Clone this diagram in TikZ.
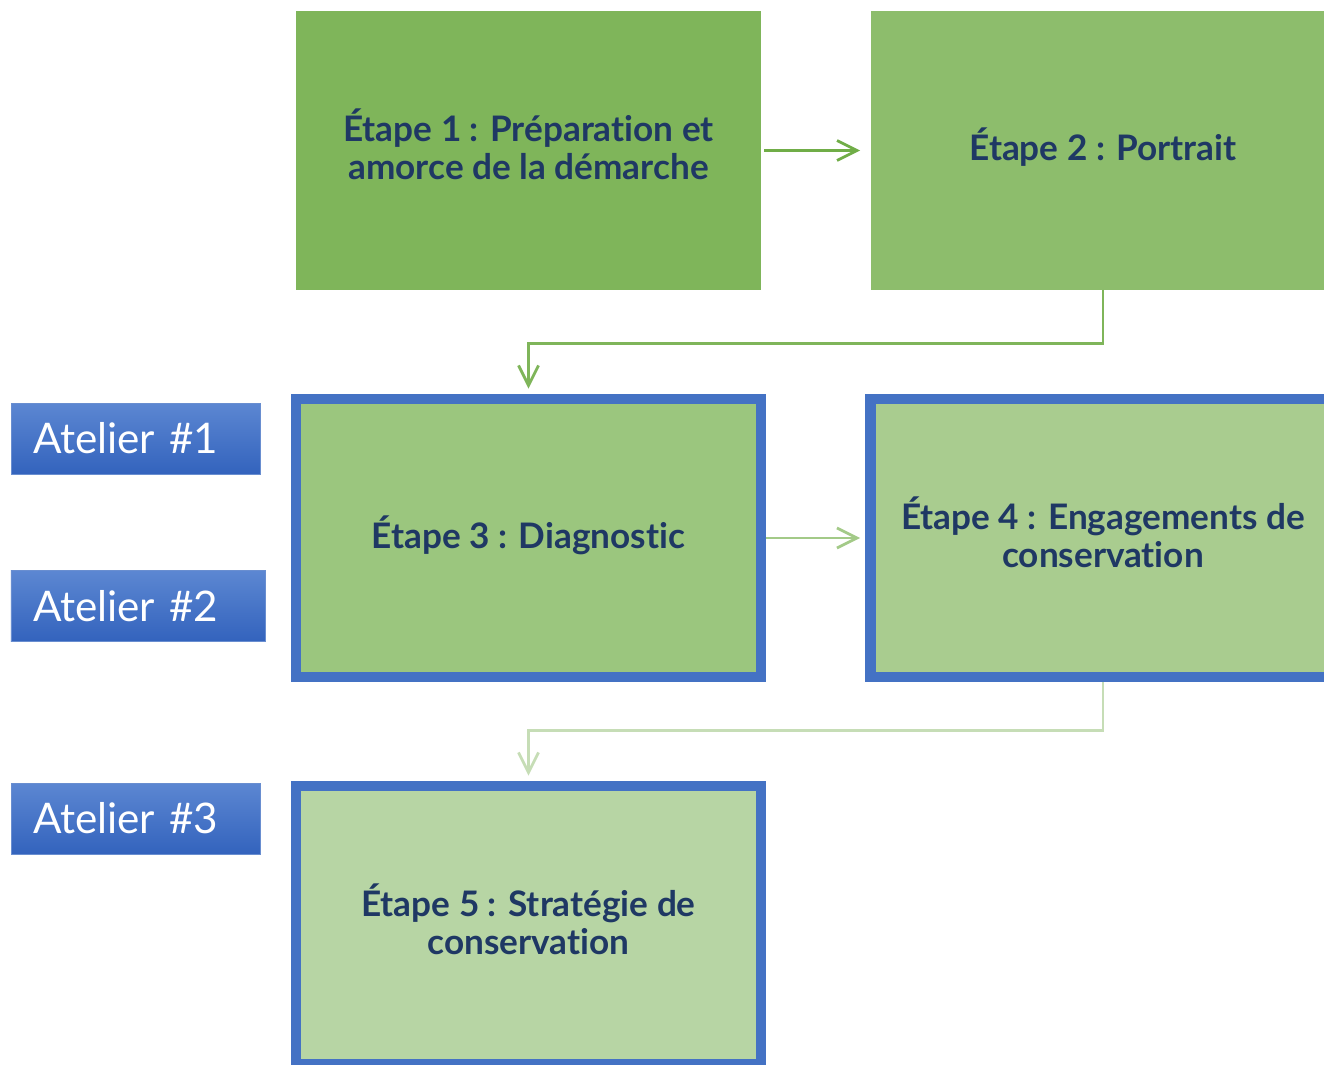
\documentclass[tikz,border=0pt]{standalone}
\usepackage{fontspec}
\setmainfont{Lato}[Ligatures=NoCommon]
\usetikzlibrary{arrows.meta}

\definecolor{vertA}{HTML}{7FB55A}
\definecolor{vertB}{HTML}{8DBD6C}
\definecolor{vertC}{HTML}{9BC67E}
\definecolor{vertD}{HTML}{A9CC8F}
\definecolor{vertE}{HTML}{B7D5A4}
\definecolor{flecheA}{HTML}{70AD47}
\definecolor{flecheB}{HTML}{7FB55A}
\definecolor{flecheC}{HTML}{A3CA88}
\definecolor{flecheD}{HTML}{C6DDB6}
\definecolor{bleuBord}{HTML}{4472C4}
\definecolor{bleuHaut}{HTML}{5C87D2}
\definecolor{bleuBas}{HTML}{3363BD}
\definecolor{marine}{HTML}{1F3864}

\tikzset{>={Straight Barb[length=4mm,width=4mm]}}
\tikzset{
  etape/.style={minimum width=9.3cm, minimum height=5.56cm, inner sep=0pt,
    align=center, text=marine, text depth=0.24cm,
    font=\fontsize{20}{21.5}\selectfont\bfseries},
  bordee/.style={draw=bleuBord, line width=6.2pt},
  atelier/.style={top color=bleuHaut, bottom color=bleuBas, draw=bleuBord!80,
    line width=0.5pt, text=white, minimum height=1.42cm, inner xsep=0.44cm,
    align=left, font=\fontsize{24}{28}\selectfont},
  lien/.style={->, line width=1.6pt},
}

\begin{document}
\begin{tikzpicture}
  \useasboundingbox (0,0) rectangle (26.48,-21.28);
  % etapes
  \node[etape, fill=vertA] (s1) at (10.57,-3.01) {Étape 1 : Préparation et\\amorce de la démarche};
  \node[etape, fill=vertB] (s2) at (22.06,-3.01) {Étape 2 : Portrait};
  \node[etape, bordee, fill=vertC] (s3) at (10.57,-10.76) {Étape 3 : Diagnostic};
  \node[etape, bordee, fill=vertD] (s4) at (22.06,-10.76) {Étape 4 : Engagements de\\conservation};
  \node[etape, bordee, fill=vertE] (s5) at (10.57,-18.5) {Étape 5 : Stratégie de\\conservation};
  % ateliers
  \node[atelier, text width=4.1cm] (a1) at (2.71,-8.77) {Atelier \#1};
  \node[atelier, text width=4.2cm] (a2) at (2.76,-12.12) {Atelier \#2};
  \node[atelier, text width=4.1cm] (a3) at (2.71,-16.37) {Atelier \#3};
  % fleches
  \draw[lien, flecheA, shorten <=0.06cm, shorten >=0.2cm] (s1.east) -- (s2.west);
  \draw[lien, flecheB, shorten >=0.1cm] (s2.south) -- ++(0,-1.08) -| (s3.north);
  \draw[lien, flecheC, shorten >=0.1cm] (s3.east) -- (s4.west);
  \draw[lien, flecheD, shorten >=0.1cm] (s4.south) -- ++(0,-0.96) -| (s5.north);
\end{tikzpicture}
\end{document}
